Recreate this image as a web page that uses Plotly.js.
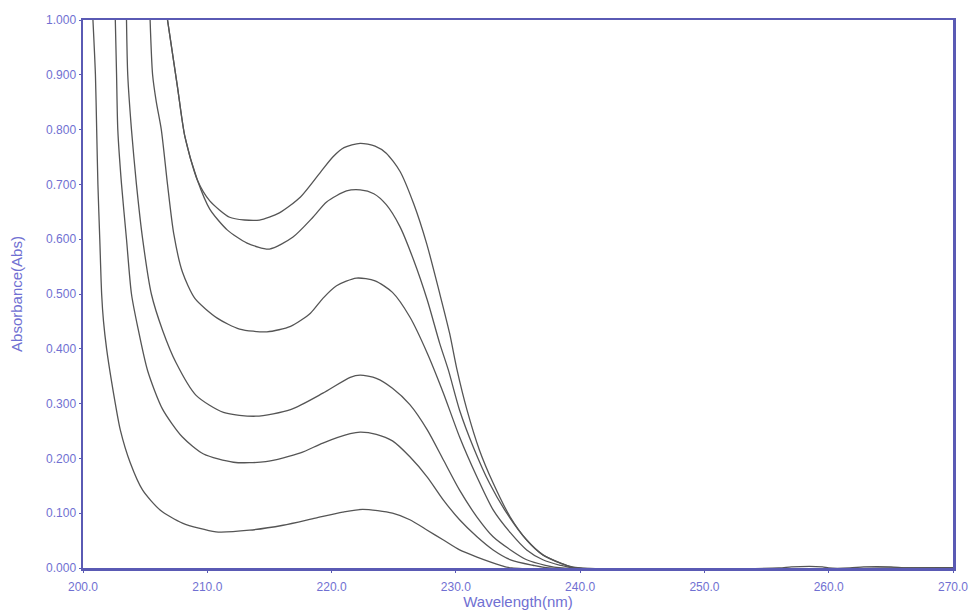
<!DOCTYPE html>
<html>
<head>
<meta charset="utf-8">
<script src="https://cdn.plot.ly/plotly-3.0.1.min.js"></script>
<style>html,body{margin:0;padding:0;background:#fff;}#chart{width:970px;height:610px;}</style>
</head>
<body>
<div id="chart"></div>
<script>
// Wavelength (nm) / Absorbance (Abs)
const wl1 = [200.8, 201.0, 201.1, 201.2, 201.35, 201.5, 201.65, 201.9, 202.3, 202.6, 203.0, 203.8, 204.8, 206.2, 208.0, 210.7, 213.4, 216.1, 218.7, 220.9, 222.5, 224.9, 226.3, 227.7, 229.0, 230.3, 231.7, 233.6, 234.5, 270.0];
const abs1 = [1.000, 0.900, 0.800, 0.700, 0.600, 0.500, 0.450, 0.400, 0.340, 0.300, 0.252, 0.192, 0.142, 0.106, 0.082, 0.066, 0.069, 0.078, 0.091, 0.102, 0.107, 0.100, 0.088, 0.069, 0.051, 0.033, 0.020, 0.005, 0.000, 0.000];

const wl2 = [202.6, 202.7, 202.8, 203.1, 203.5, 203.9, 204.4, 205.2, 206.4, 208.0, 209.7, 212.1, 214.7, 217.5, 219.3, 221.5, 222.3, 223.6, 224.9, 226.3, 227.7, 229.0, 230.3, 231.7, 233.0, 234.4, 236.2, 237.5, 270.0];
const abs2 = [1.000, 0.900, 0.800, 0.700, 0.600, 0.500, 0.440, 0.360, 0.290, 0.239, 0.208, 0.193, 0.194, 0.210, 0.228, 0.245, 0.248, 0.244, 0.232, 0.203, 0.166, 0.124, 0.088, 0.057, 0.033, 0.015, 0.005, 0.000, 0.000];

const wl3 = [203.5, 203.6, 203.9, 204.3, 204.8, 205.5, 206.4, 207.5, 209.1, 211.3, 213.9, 216.7, 219.3, 221.5, 222.3, 223.6, 224.9, 226.3, 227.7, 229.0, 230.3, 231.7, 233.0, 234.4, 235.7, 237.2, 238.5, 270.0];
const abs3 = [1.000, 0.900, 0.800, 0.700, 0.600, 0.500, 0.434, 0.374, 0.315, 0.284, 0.277, 0.289, 0.319, 0.348, 0.352, 0.346, 0.328, 0.298, 0.252, 0.197, 0.142, 0.093, 0.057, 0.033, 0.015, 0.005, 0.000, 0.000];

const wl4 = [205.4, 205.6, 205.9, 206.3, 206.8, 207.3, 208.0, 209.0, 210.8, 212.6, 214.8, 216.7, 218.3, 219.3, 220.4, 222.0, 223.5, 224.9, 226.3, 227.7, 229.0, 230.3, 231.7, 233.0, 234.4, 235.7, 237.0, 238.4, 239.5, 270.0];
const abs4 = [1.000, 0.900, 0.850, 0.800, 0.700, 0.610, 0.540, 0.492, 0.456, 0.436, 0.431, 0.441, 0.465, 0.492, 0.515, 0.529, 0.524, 0.503, 0.458, 0.392, 0.319, 0.239, 0.166, 0.106, 0.064, 0.033, 0.015, 0.005, 0.000, 0.000];

const wl5 = [206.8, 207.6, 208.2, 209.2, 210.2, 211.6, 213.2, 215.0, 216.9, 218.5, 219.6, 221.2, 222.3, 223.4, 224.4, 225.5, 226.6, 227.7, 228.7, 229.4, 230.3, 231.4, 232.7, 234.1, 235.7, 237.0, 238.4, 239.7, 270.0];
const abs5 = [1.000, 0.878, 0.787, 0.708, 0.655, 0.617, 0.593, 0.582, 0.604, 0.640, 0.668, 0.688, 0.690, 0.683, 0.663, 0.623, 0.562, 0.489, 0.410, 0.361, 0.288, 0.221, 0.155, 0.100, 0.051, 0.024, 0.009, 0.000, 0.000];

const wl6 = [206.8, 207.6, 208.2, 209.2, 210.2, 211.8, 213.0, 214.2, 215.8, 217.5, 219.1, 220.1, 221.0, 222.3, 223.5, 224.4, 225.5, 226.6, 227.65, 228.7, 229.5, 230.1, 230.9, 231.9, 233.0, 234.35, 235.7, 237.0, 238.9, 240.0, 256.0, 257.0, 259.5, 260.0, 261.7, 262.8, 265.0, 266.3, 270.0];
const abs6 = [1.000, 0.878, 0.787, 0.708, 0.670, 0.640, 0.635, 0.635, 0.648, 0.677, 0.722, 0.750, 0.767, 0.775, 0.770, 0.757, 0.724, 0.665, 0.592, 0.501, 0.428, 0.361, 0.288, 0.215, 0.155, 0.094, 0.051, 0.024, 0.005, 0.000, 0.000, 0.002, 0.002, 0.000, 0.000, 0.002, 0.002, 0.000, 0.000];

const xTicks = [200, 210, 220, 230, 240, 250, 260, 270];
const yTicks = [0, 0.1, 0.2, 0.3, 0.4, 0.5, 0.6, 0.7, 0.8, 0.9, 1.0];

const series = [[wl1, abs1], [wl2, abs2], [wl3, abs3], [wl4, abs4], [wl5, abs5], [wl6, abs6]];
const traces = series.map(s => ({
  x: s[0], y: s[1], type: 'scatter', mode: 'lines',
  line: {color: '#555555', width: 1.3, shape: 'spline', smoothing: 0.7},
  hoverinfo: 'x+y'
}));

const axisColor = '#5a5ab4';
const textColor = '#7070d2';
const layout = {
  width: 970, height: 610,
  margin: {l: 83, r: 17, t: 20, b: 42},
  paper_bgcolor: '#ffffff', plot_bgcolor: '#ffffff',
  showlegend: false,
  font: {family: 'Liberation Sans, Arial, sans-serif', size: 12, color: textColor},
  xaxis: {
    range: [200, 270], tickvals: xTicks, tickformat: '.1f',
    showgrid: false, zeroline: false,
    showline: true, mirror: true, linecolor: axisColor, linewidth: 2.5,
    ticks: 'outside', ticklen: 2, tickcolor: axisColor,
    ticklabelstandoff: 4,
    tickfont: {size: 12, color: textColor},
    title: {text: 'Wavelength(nm)', font: {size: 15, color: textColor}, standoff: 1}
  },
  yaxis: {
    range: [0, 1], tickvals: yTicks, tickformat: '.3f',
    showgrid: false, zeroline: false,
    showline: true, mirror: true, linecolor: axisColor, linewidth: 2.5,
    ticks: 'outside', ticklen: 2, tickcolor: axisColor,
    tickfont: {size: 12, color: textColor},
    title: {text: 'Absorbance(Abs)', font: {size: 15, color: textColor}, standoff: 20}
  }
};

Plotly.newPlot('chart', traces, layout, {displayModeBar: false, staticPlot: true});
</script>
</body>
</html>
